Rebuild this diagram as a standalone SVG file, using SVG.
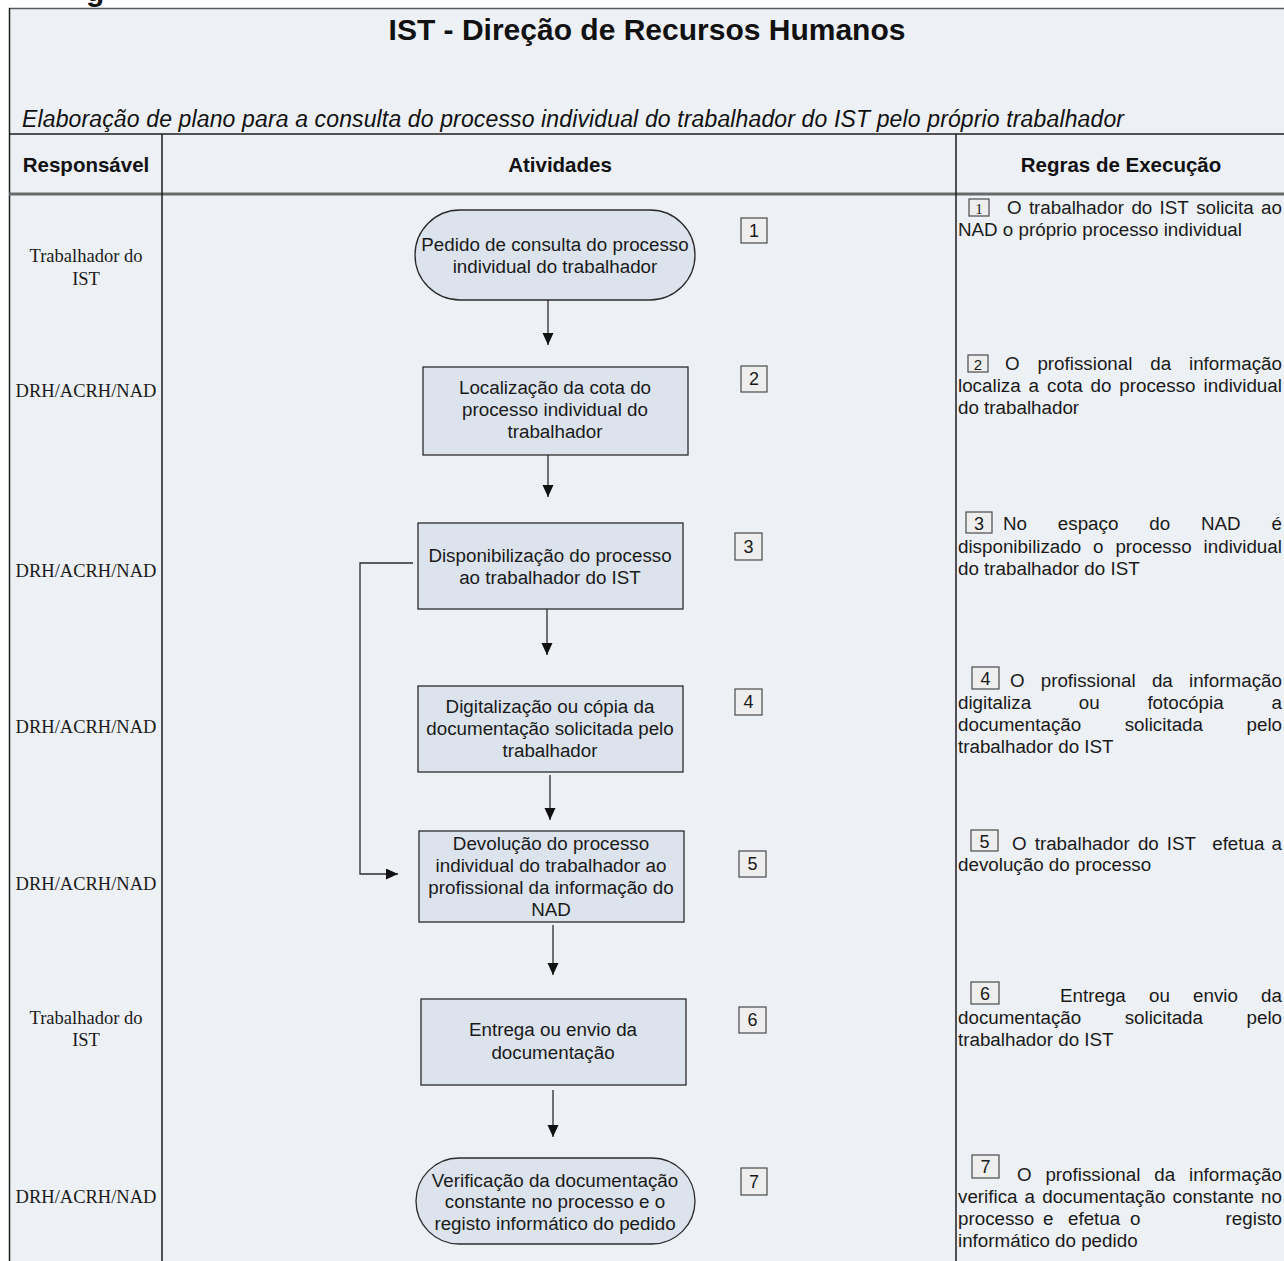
<svg xmlns="http://www.w3.org/2000/svg" width="1284" height="1261" viewBox="0 0 1284 1261">
<style>
.bg{fill:#EDF0F5}
.node{fill:#DCE3ED;stroke:#2b2b2b;stroke-width:1.3}
.badge{fill:#EEEEEE;stroke:#4a4a4a;stroke-width:1.2}
.t{font-family:"Liberation Sans",Arial,sans-serif;font-size:18.8px;fill:#1a1a1a}
.c{text-anchor:middle}
.e{text-anchor:end}
.b{font-family:"Liberation Sans",Arial,sans-serif;font-size:18px;fill:#1a1a1a;text-anchor:middle}
.s{font-family:"Liberation Serif","Times New Roman",serif;font-size:18.5px;fill:#1a1a1a;text-anchor:middle}
.h{font-family:"Liberation Sans",Arial,sans-serif;font-weight:bold;font-size:20.5px;fill:#111;text-anchor:middle}
.grid{stroke:#1e1e1e;stroke-width:1.5;fill:none}
.conn{stroke:#2b2b2b;stroke-width:1.3;fill:none}
</style>
<defs>
<marker id="arr" markerUnits="userSpaceOnUse" markerWidth="13" markerHeight="12" refX="12" refY="5.5" orient="auto">
<path d="M0,0 L12,5.5 L0,11 z" fill="#111"/>
</marker>
</defs>
<rect x="0" y="0" width="1284" height="1261" fill="#ffffff"/>
<text x="86" y="1" font-family="Liberation Sans,Arial,sans-serif" font-weight="bold" font-size="30" fill="#111">g</text>
<rect class="bg" x="9" y="8" width="1280" height="1260"/>
<g id="table">
<line x1="9" y1="8.5" x2="1284" y2="8.5" stroke="#5a5a5a" stroke-width="1.5"/>
<line x1="9.5" y1="8" x2="9.5" y2="1261" class="grid"/>
<line x1="9" y1="134" x2="1284" y2="134" class="grid"/>
<line x1="9" y1="194" x2="1284" y2="194" stroke="#6a6a6a" stroke-width="3"/>
<line x1="162" y1="134" x2="162" y2="1261" class="grid"/>
<line x1="956" y1="134" x2="956" y2="1261" class="grid"/>
<text x="647" y="40" font-family="Liberation Sans,Arial,sans-serif" font-weight="bold" font-size="30" fill="#111" text-anchor="middle">IST - Direção de Recursos Humanos</text>
<text x="22" y="127" font-family="Liberation Sans,Arial,sans-serif" font-style="italic" font-size="23" fill="#111" textLength="1102" lengthAdjust="spacing">Elaboração de plano para a consulta do processo individual do trabalhador do IST pelo próprio trabalhador</text>
<text class="h" x="86" y="172">Responsável</text>
<text class="h" x="560" y="172">Atividades</text>
<text class="h" x="1121" y="172">Regras de Execução</text>
</g>
<g id="responsaveis">
<text class="s" x="86" y="262">Trabalhador do</text>
<text class="s" x="86" y="285">IST</text>
<text class="s" x="86" y="397">DRH/ACRH/NAD</text>
<text class="s" x="86" y="577">DRH/ACRH/NAD</text>
<text class="s" x="86" y="733">DRH/ACRH/NAD</text>
<text class="s" x="86" y="890">DRH/ACRH/NAD</text>
<text class="s" x="86" y="1024">Trabalhador do</text>
<text class="s" x="86" y="1046">IST</text>
<text class="s" x="86" y="1203">DRH/ACRH/NAD</text>
</g>
<g id="connectors">
<line class="conn" x1="548" y1="300" x2="548" y2="345" marker-end="url(#arr)"/>
<line class="conn" x1="548" y1="455" x2="548" y2="497" marker-end="url(#arr)"/>
<line class="conn" x1="547" y1="609" x2="547" y2="655" marker-end="url(#arr)"/>
<line class="conn" x1="550" y1="775" x2="550" y2="820" marker-end="url(#arr)"/>
<line class="conn" x1="553" y1="925" x2="553" y2="975" marker-end="url(#arr)"/>
<line class="conn" x1="553" y1="1090" x2="553" y2="1137" marker-end="url(#arr)"/>
<path class="conn" d="M413,563 H360 V874 H398" marker-end="url(#arr)"/>
</g>
<g id="node1">
<rect class="node" x="415" y="210" width="280" height="90" rx="45" ry="45"/>
<text class="t c" x="555" y="251">Pedido de consulta do processo</text>
<text class="t c" x="555" y="273">individual do trabalhador</text>
<rect class="badge" x="741" y="218" width="26" height="25"/>
<text class="b" x="754" y="237">1</text>
</g>
<g id="node2">
<rect class="node" x="423" y="367" width="265" height="88"/>
<text class="t c" x="555" y="394">Localização da cota do</text>
<text class="t c" x="555" y="416">processo individual do</text>
<text class="t c" x="555" y="438">trabalhador</text>
<rect class="badge" x="741" y="366" width="26" height="26"/>
<text class="b" x="754" y="385">2</text>
</g>
<g id="node3">
<rect class="node" x="418" y="523" width="265" height="86"/>
<text class="t c" x="550" y="562">Disponibilização do processo</text>
<text class="t c" x="550" y="584">ao trabalhador do IST</text>
<rect class="badge" x="735" y="533" width="27" height="27"/>
<text class="b" x="748.5" y="553">3</text>
</g>
<g id="node4">
<rect class="node" x="418" y="686" width="265" height="86"/>
<text class="t c" x="550" y="713">Digitalização ou cópia da</text>
<text class="t c" x="550" y="735">documentação solicitada pelo</text>
<text class="t c" x="550" y="757">trabalhador</text>
<rect class="badge" x="735" y="689" width="27" height="26"/>
<text class="b" x="748.5" y="708">4</text>
</g>
<g id="node5">
<rect class="node" x="419" y="831" width="265" height="91"/>
<text class="t c" x="551" y="850">Devolução do processo</text>
<text class="t c" x="551" y="872">individual do trabalhador ao</text>
<text class="t c" x="551" y="894">profissional da informação do</text>
<text class="t c" x="551" y="916">NAD</text>
<rect class="badge" x="739" y="851" width="27" height="26"/>
<text class="b" x="752.5" y="870">5</text>
</g>
<g id="node6">
<rect class="node" x="421" y="999" width="265" height="86"/>
<text class="t c" x="553" y="1036">Entrega ou envio da</text>
<text class="t c" x="553" y="1059">documentação</text>
<rect class="badge" x="739" y="1007" width="27" height="26"/>
<text class="b" x="752.5" y="1026">6</text>
</g>
<g id="node7">
<rect class="node" x="416" y="1158" width="279" height="86" rx="43" ry="43"/>
<text class="t c" x="555" y="1187">Verificação da documentação</text>
<text class="t c" x="555" y="1208">constante no processo e o</text>
<text class="t c" x="555" y="1230">registo informático do pedido</text>
<rect class="badge" x="741" y="1168" width="26" height="27"/>
<text class="b" x="754" y="1188">7</text>
</g>
<g id="regras">
<rect class="badge" x="969" y="199" width="20" height="17"/>
<text x="979" y="214" font-family="Liberation Serif,Times New Roman,serif" font-size="15" fill="#1a1a1a" text-anchor="middle">1</text>
<text class="t" y="214"><tspan x="1007">O</tspan><tspan x="1028.9">trabalhador</tspan><tspan x="1131.4">do</tspan><tspan x="1159.6">IST</tspan><tspan x="1196.2">solicita</tspan><tspan x="1261.1">ao</tspan></text>
<text class="t" x="958" y="236">NAD o próprio processo individual</text>

<rect class="badge" x="968" y="355" width="20" height="17"/>
<text x="978" y="370" font-family="Liberation Sans,Arial,sans-serif" font-size="15" fill="#1a1a1a" text-anchor="middle">2</text>
<text class="t" y="370"><tspan x="1005">O</tspan><tspan x="1037.4">profissional</tspan><tspan x="1150.3">da</tspan><tspan x="1189">informação</tspan></text>
<text class="t" y="392"><tspan x="958">localiza</tspan><tspan x="1028.6">a</tspan><tspan x="1047.1">cota</tspan><tspan x="1090.5">do</tspan><tspan x="1119.3">processo</tspan><tspan x="1203.6">individual</tspan></text>
<text class="t" x="958" y="414">do trabalhador</text>

<rect class="badge" x="966" y="512" width="26" height="21"/>
<text class="b" x="979" y="530">3</text>
<text class="t" y="530"><tspan x="1003">No</tspan><tspan x="1057.8">espaço</tspan><tspan x="1149.2">do</tspan><tspan x="1200.9">NAD</tspan><tspan x="1271.5">é</tspan></text>
<text class="t" y="553"><tspan x="958">disponibilizado</tspan><tspan x="1093.1">o</tspan><tspan x="1115.4">processo</tspan><tspan x="1203.6">individual</tspan></text>
<text class="t" x="958" y="575">do trabalhador do IST</text>

<rect class="badge" x="972" y="667" width="27" height="22"/>
<text class="b" x="985.5" y="685">4</text>
<text class="t" y="687"><tspan x="1010">O</tspan><tspan x="1040.7">profissional</tspan><tspan x="1151.9">da</tspan><tspan x="1189">informação</tspan></text>
<text class="t" y="709"><tspan x="958">digitaliza</tspan><tspan x="1078.8">ou</tspan><tspan x="1147.4">fotocópia</tspan><tspan x="1271.5">a</tspan></text>
<text class="t" y="731"><tspan x="958">documentação</tspan><tspan x="1124.7">solicitada</tspan><tspan x="1246.5">pelo</tspan></text>
<text class="t" x="958" y="753">trabalhador do IST</text>

<rect class="badge" x="971" y="830" width="27" height="21"/>
<text class="b" x="984.5" y="848">5</text>
<text class="t" y="850"><tspan x="1012">O</tspan><tspan x="1034.7">trabalhador</tspan><tspan x="1137.9">do</tspan><tspan x="1166.8">IST</tspan><tspan x="1212.2">efetua</tspan><tspan x="1271.5">a</tspan></text>
<text class="t" x="958" y="871">devolução do processo</text>

<rect class="badge" x="971" y="982" width="28" height="22"/>
<text class="b" x="985" y="1000">6</text>
<text class="t" y="1002"><tspan x="1060">Entrega</tspan><tspan x="1149">ou</tspan><tspan x="1193.1">envio</tspan><tspan x="1261.1">da</tspan></text>
<text class="t" y="1024"><tspan x="958">documentação</tspan><tspan x="1124.7">solicitada</tspan><tspan x="1246.5">pelo</tspan></text>
<text class="t" x="958" y="1046">trabalhador do IST</text>

<rect class="badge" x="972" y="1155" width="27" height="23"/>
<text class="b" x="985.5" y="1173">7</text>
<text class="t" y="1181"><tspan x="1017">O</tspan><tspan x="1045.4">profissional</tspan><tspan x="1154.3">da</tspan><tspan x="1189">informação</tspan></text>
<text class="t" y="1203"><tspan x="958">verifica</tspan><tspan x="1024.6">a</tspan><tspan x="1042.2">documentação</tspan><tspan x="1172.6">constante</tspan><tspan x="1261.1">no</tspan></text>
<text class="t" y="1225"><tspan x="958">processo</tspan><tspan x="1043">e</tspan><tspan x="1068">efetua</tspan><tspan x="1130">o</tspan><tspan x="1225.6">registo</tspan></text>
<text class="t" x="958" y="1247">informático do pedido</text>
</g>
</svg>
